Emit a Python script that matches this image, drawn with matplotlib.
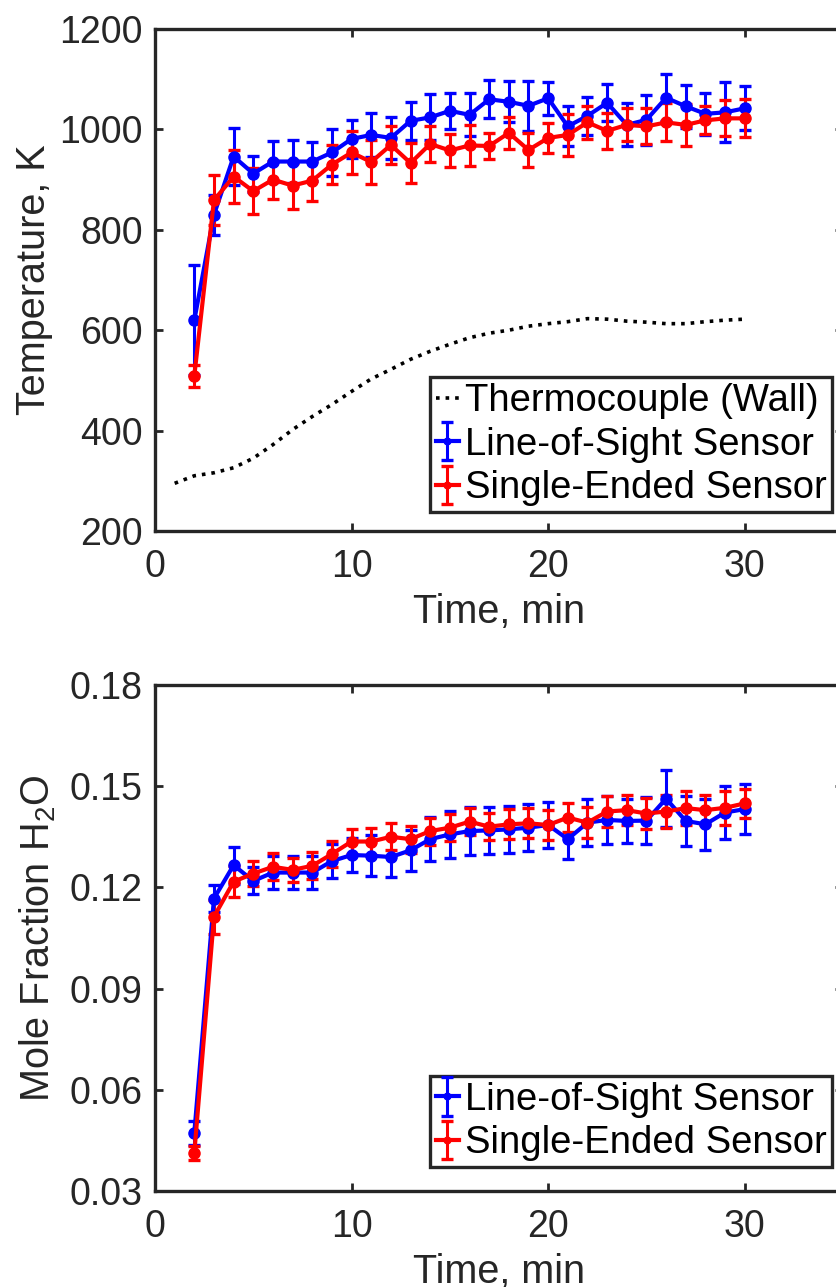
import matplotlib
matplotlib.use("Agg")
import matplotlib.pyplot as plt
import numpy as np

plt.rcParams['font.family'] = ['Liberation Sans', 'DejaVu Sans']
plt.rcParams['mathtext.fontset'] = 'custom'
plt.rcParams['mathtext.rm'] = 'Liberation Sans'
plt.rcParams['mathtext.it'] = 'Liberation Sans:italic'

# ---------------- data ----------------
time_min = list(range(2, 31))

los_temp = [620, 830, 946, 912, 936, 936, 936, 954, 981, 989, 983, 1017, 1024, 1037, 1029,
            1060, 1055, 1047, 1062, 1006, 1027, 1053, 1009, 1019, 1063, 1046, 1031, 1034, 1042]
los_temp_err = [110, 40, 56, 36, 40, 42, 38, 46, 37, 44, 41, 38, 46, 36, 43,
                38, 41, 50, 33, 40, 38, 37, 43, 50, 47, 43, 42, 60, 44]

se_temp = [509, 859, 906, 877, 900, 888, 898, 930, 954, 935, 969, 933, 971, 958, 968,
           967, 993, 959, 983, 989, 1014, 997, 1009, 1006, 1014, 1009, 1018, 1022, 1022]
se_temp_err = [22, 50, 53, 46, 38, 46, 40, 38, 43, 44, 38, 40, 35, 33, 41,
               25, 32, 34, 30, 41, 33, 36, 33, 36, 38, 42, 28, 36, 38]

tc_time = list(range(1, 31))
tc_temp = [295, 310, 316, 326, 345, 372, 402, 428, 452, 478, 503, 522, 542, 558, 572,
           585, 594, 600, 608, 613, 617, 623, 622, 618, 616, 613, 613, 617, 620, 622]

los_h2o = [0.0472, 0.1167, 0.1266, 0.1219, 0.1244, 0.1244, 0.1244, 0.1278, 0.1296, 0.1294,
           0.1290, 0.1310, 0.1343, 0.1357, 0.1367, 0.1369, 0.1372, 0.1377, 0.1385, 0.1343,
           0.1392, 0.1400, 0.1397, 0.1398, 0.1463, 0.1397, 0.1387, 0.1422, 0.1432]
los_h2o_err = [0.0035, 0.004, 0.0055, 0.004, 0.005, 0.005, 0.005, 0.005, 0.005, 0.006,
               0.006, 0.006, 0.0065, 0.007, 0.007, 0.007, 0.007, 0.007, 0.0068, 0.006,
               0.007, 0.007, 0.0065, 0.007, 0.0084, 0.0075, 0.0075, 0.008, 0.0075]

se_h2o = [0.0413, 0.1113, 0.1217, 0.1241, 0.1261, 0.1252, 0.1264, 0.1299, 0.1336, 0.1336,
          0.1350, 0.1343, 0.1367, 0.1377, 0.1395, 0.1380, 0.1387, 0.1390, 0.1385, 0.1407,
          0.1392, 0.1425, 0.1429, 0.1419, 0.1425, 0.1435, 0.1429, 0.1436, 0.1449]
se_h2o_err = [0.002, 0.005, 0.0045, 0.0037, 0.004, 0.0035, 0.004, 0.004, 0.0036, 0.004,
              0.004, 0.004, 0.004, 0.004, 0.004, 0.004, 0.0045, 0.0045, 0.0045, 0.0044,
              0.0045, 0.0045, 0.0045, 0.0045, 0.005, 0.005, 0.0045, 0.005, 0.0042]

x_ticks = [0, 10, 20, 30]
temp_ticks = [200, 400, 600, 800, 1000, 1200]
h2o_ticks = [0.03, 0.06, 0.09, 0.12, 0.15, 0.18]
h2o_ticklabels = ['0.03', '0.06', '0.09', '0.12', '0.15', '0.18']

# ---------------- style ----------------
AX_COL = '#262626'
TICK_FS = 27
LABEL_FS = 28.5
LEG_FS = 27.5
LW = 3.0

fig = plt.figure(figsize=(8.36, 12.87), dpi=100)
ax1 = fig.add_axes([155/836, 1-531/1287, 688/836, 502/1287])
ax2 = fig.add_axes([155/836, 1-1191/1287, 688/836, 506/1287])


def style_axes(ax):
    for s in ax.spines.values():
        s.set_linewidth(2.4)
        s.set_color(AX_COL)
    ax.tick_params(direction='in', length=6, width=2.0, colors=AX_COL,
                   labelsize=TICK_FS, top=True, right=True, pad=9)
    ax.tick_params(axis='x', pad=13)
    ax.set_xlim(0, 35)
    ax.set_xticks(x_ticks)


def eb(ax, x, y, e, color, label):
    return ax.errorbar(x, y, yerr=e, color=color, lw=LW, marker='o', ms=8,
                       mfc=color, mec=color, elinewidth=2.2, capsize=4.5,
                       capthick=2.4, label=label)


# Top panel
style_axes(ax1)
h_tc, = ax1.plot(tc_time, tc_temp, ':', color='k', lw=2.6, label='Thermocouple (Wall)')
h_los = eb(ax1, time_min, los_temp, los_temp_err, (0, 0, 1), 'Line-of-Sight Sensor')
h_se = eb(ax1, time_min, se_temp, se_temp_err, (1, 0, 0), 'Single-Ended Sensor')
ax1.set_ylim(200, 1200)
ax1.set_yticks(temp_ticks)
ax1.set_xlabel('Time, min', fontsize=LABEL_FS, color=AX_COL, labelpad=6)
ax1.set_ylabel('Temperature, K', fontsize=LABEL_FS, color=AX_COL, labelpad=4)
leg1 = ax1.legend(handles=[h_tc, h_los, h_se], loc='lower right',
                  bbox_to_anchor=(0.984, 0.038), borderaxespad=0, fontsize=LEG_FS,
                  frameon=True, fancybox=False, framealpha=1, edgecolor=AX_COL,
                  handlelength=0.6, handletextpad=0.15, labelspacing=0.2,
                  borderpad=0.15, markerscale=0.6)
leg1.get_frame().set_linewidth(2.4)

# Bottom panel
style_axes(ax2)
h_los2 = eb(ax2, time_min, los_h2o, los_h2o_err, (0, 0, 1), 'Line-of-Sight Sensor')
h_se2 = eb(ax2, time_min, se_h2o, se_h2o_err, (1, 0, 0), 'Single-Ended Sensor')
ax2.set_ylim(0.03, 0.18)
ax2.set_yticks(h2o_ticks)
ax2.set_yticklabels(h2o_ticklabels)
ax2.set_xlabel('Time, min', fontsize=LABEL_FS, color=AX_COL, labelpad=6)
ax2.set_ylabel(r'Mole Fraction H$_\mathregular{2}$O', fontsize=LABEL_FS, color=AX_COL, labelpad=8)
leg2 = ax2.legend(handles=[h_los2, h_se2], loc='lower right',
                  bbox_to_anchor=(0.984, 0.047), borderaxespad=0, fontsize=LEG_FS,
                  frameon=True, fancybox=False, framealpha=1, edgecolor=AX_COL,
                  handlelength=0.6, handletextpad=0.15, labelspacing=0.2,
                  borderpad=0.15, markerscale=0.6)
leg2.get_frame().set_linewidth(2.4)

fig.savefig('out.png', dpi=100)
